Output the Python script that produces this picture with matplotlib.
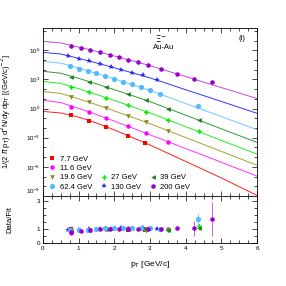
import matplotlib
matplotlib.use("Agg")
import matplotlib.pyplot as plt
from matplotlib.ticker import FixedLocator, NullFormatter, MultipleLocator

# fit curves on a 0.5 GeV/c grid
fit_pt = [0, 0.5, 1.0, 1.5, 2.0, 2.5, 3.0, 3.5, 4.0, 4.5, 5.0, 5.5, 6.0]
fit_200 = [8.5e6, 5.9e6, 2.2e6, 7.9e5, 2.6e5, 8.5e4, 2.7e4, 7.2e3, 2.0e3, 537, 145, 40, 10.7]
fit_130 = [6.2e5, 4.2e5, 1.5e5, 5.1e4, 1.6e4, 4.9e3, 1.45e3, 363, 87, 21.9, 5.4, 1.32, 0.324]
fit_62 = [7.4e4, 4.8e4, 1.5e4, 4.3e3, 1.15e3, 295, 74, 15.7, 3.31, 0.70, 0.148, 0.0313, 6.6e-3]
fit_39 = [6.9e3, 4.4e3, 1.3e3, 355, 89, 22, 5.2, 1.035, 0.207, 0.0412, 8.2e-3, 1.64e-3, 3.27e-4]
fit_27 = [630, 390, 112, 29, 6.9, 1.58, 0.355, 0.0695, 0.0136, 2.66e-3, 5.2e-4, 1.02e-4, 2.0e-5]
fit_19 = [59, 36, 10, 2.5, 0.575, 0.129, 0.0279, 5.4e-3, 1.04e-3, 2.0e-4, 3.85e-5, 7.4e-6, 1.43e-6]
fit_11 = [7.1, 4.2, 1.06, 0.245, 0.051, 0.0102, 2.0e-3, 3.9e-4, 7.6e-5, 1.5e-5, 2.9e-6, 5.6e-7, 1.1e-7]
fit_7 = [0.51, 0.355, 0.132, 0.033, 6.3e-3, 1.05e-3, 1.78e-4, 2.5e-5, 3.55e-6, 5.0e-7, 7.1e-8, 8.9e-9, 1.12e-9]

# data points (spectra and data/fit ratio)
pt_7 = [0.8, 1.3, 1.76, 2.38, 2.85]
y_7 = [0.20, 0.055, 0.0142, 1.5e-3, 2.8e-4]
r_7 = [1.02, 0.88, 1.0, 0.92, 0.92]

pt_11 = [0.8, 1.28, 1.76, 2.37, 2.9, 3.5]
y_11 = [1.38, 0.42, 0.109, 0.0163, 2.77e-3, 3.9e-4]
r_11 = [0.75, 0.9, 1.0, 1.05, 1.0, 1.0]

pt_19 = [0.8, 1.28, 1.76, 2.38, 2.9, 3.5]
y_19 = [15.9, 4.25, 1.17, 0.185, 0.0378, 5.1e-3]
r_19 = [0.95, 0.92, 1.0, 1.0, 1.0, 0.95]

pt_27 = [0.8, 1.28, 1.76, 2.38, 2.9, 3.5, 4.37]
y_27 = [166, 50, 13.7, 2.26, 0.455, 0.066, 4.9e-3]
r_27 = [0.9, 0.95, 1.0, 1.0, 0.95, 0.95, 1.2]
e_27 = [0.03, 0.03, 0.03, 0.03, 0.04, 0.05, 0.15]

pt_39 = [0.8, 1.28, 1.76, 2.38, 2.9, 3.5, 4.37]
y_39 = [1800, 600, 173, 30.6, 6.9, 0.98, 0.066]
r_39 = [0.85, 0.95, 1.0, 1.0, 1.0, 0.95, 1.05]
e_39 = [0.03, 0.03, 0.03, 0.03, 0.04, 0.05, 0.1]

pt_62 = [0.75, 1.0, 1.25, 1.5, 1.75, 2.0, 2.25, 2.5, 2.75, 3.0, 3.28, 4.34]
y_62 = [2.5e4, 1.33e4, 7.5e3, 4.27e3, 2.3e3, 1.2e3, 610, 325, 155, 81, 31, 1.96]
r_62 = [0.95, 0.9, 0.95, 1.0, 1.05, 1.05, 1.05, 1.1, 1.05, 1.1, 1.0, 1.7]
e_62 = [0.03, 0.03, 0.03, 0.03, 0.03, 0.03, 0.04, 0.04, 0.05, 0.05, 0.07, 0.4]

pt_130 = [0.7, 1.0, 1.3, 1.6, 1.9, 2.2, 2.5, 2.8, 3.2]
y_130 = [2.6e5, 1.36e5, 7.9e4, 4.06e4, 2.0e4, 1.04e4, 4.9e3, 2.6e3, 895]
r_130 = [0.95, 0.9, 1.0, 1.0, 1.0, 1.05, 1.0, 1.1, 1.0]

pt_200 = [0.78, 1.06, 1.32, 1.6, 1.88, 2.13, 2.38, 2.66, 2.94, 3.3, 3.75, 4.23, 4.73]
y_200 = [2.65e6, 1.7e6, 1.09e6, 6.3e5, 3.57e5, 1.95e5, 1.12e5, 5.9e4, 3.1e4, 1.32e4, 4.0e3, 1.15e3, 500]
r_200 = [0.78, 0.85, 0.95, 1.0, 1.02, 1.0, 1.02, 1.0, 1.0, 0.98, 1.05, 1.05, 1.7]
e_200 = [0.03, 0.03, 0.03, 0.03, 0.03, 0.03, 0.03, 0.04, 0.05, 0.08, 0.12, 0.55, 1.2]

labels = ["7.7 GeV", "11.6 GeV", "19.6 GeV", "27 GeV", "39 GeV", "62.4 GeV", "130 GeV", "200 GeV"]

series = [
    # label, fit, pt, y, ratio, err, marker, marker colour, line colour, size
    (labels[0], fit_7, pt_7, y_7, r_7, None, "s", "#ff0000", "#ff2020", 3.0),
    (labels[1], fit_11, pt_11, y_11, r_11, None, "o", "#ff00ff", "#ff33ff", 3.2),
    (labels[2], fit_19, pt_19, y_19, r_19, None, "v", "#8c8c1a", "#a3a333", 3.4),
    (labels[3], fit_27, pt_27, y_27, r_27, e_27, "P", "#00ee00", "#22ee22", 3.4),
    (labels[4], fit_39, pt_39, y_39, r_39, e_39, "<", "#1a801a", "#339933", 3.4),
    (labels[5], fit_62, pt_62, y_62, r_62, e_62, "o", "#55bbff", "#66ccff", 3.8),
    (labels[6], fit_130, pt_130, y_130, r_130, None, "*", "#2222ee", "#3333ff", 4.0),
    (labels[7], fit_200, pt_200, y_200, r_200, e_200, "h", "#9900cc", "#cc44dd", 3.6),
]

plt.rcParams["font.family"] = ["Liberation Sans", "DejaVu Sans"]
plt.rcParams["mathtext.fontset"] = "dejavusans"

fig = plt.figure(figsize=(2.86, 2.86), dpi=100)
ax = fig.add_axes([0.150, 0.315, 0.749, 0.587])
axr = fig.add_axes([0.150, 0.150, 0.749, 0.165], sharex=ax)

handles = []
for label, fit, pt, y, r, err, mk, mc, lc, ms in series:
    ax.plot(fit_pt, fit, color=lc, lw=0.7, zorder=2)
    h, = ax.plot(pt, y, ls="none", marker=mk, color=mc, ms=ms, mew=0, zorder=3)
    handles.append(h)
    if err is not None:
        axr.errorbar(pt, r, yerr=err, ls="none", marker=mk, color=mc, ms=ms,
                     mew=0, elinewidth=0.6, ecolor=lc, capsize=0, zorder=3)
    else:
        axr.plot(pt, r, ls="none", marker=mk, color=mc, ms=ms, mew=0, zorder=3)

ax.set_yscale("log")
ax.set_ylim(1e-9, 2e8)
ax.set_xlim(0, 6)
ax.yaxis.set_major_locator(FixedLocator([1e-9, 1e-6, 1e-3, 1e0, 1e3, 1e6]))
ax.yaxis.set_minor_locator(FixedLocator([10.0 ** k for k in range(-9, 9)]))
ax.yaxis.set_minor_formatter(NullFormatter())
ax.xaxis.set_major_locator(MultipleLocator(1))
ax.xaxis.set_minor_locator(MultipleLocator(0.25))
ax.tick_params(labelbottom=False)

for a in (ax, axr):
    a.tick_params(which="both", direction="in", top=True, right=True, labelsize=4.5, width=0.5, pad=2)
    a.tick_params(which="major", length=3.5)
    a.tick_params(which="minor", length=2)
    for s in a.spines.values():
        s.set_linewidth(0.6)

axr.set_ylim(0, 3.35)
axr.yaxis.set_major_locator(FixedLocator([0, 1, 3]))
axr.yaxis.set_minor_locator(MultipleLocator(0.5))

ax.set_ylabel(r"1/(2 $\pi$ p$_{\rm T}$) d$^2$N/dy dp$_{\rm T}$ [(GeV/c)$^{-2}$]", fontsize=5.5, labelpad=2)
axr.set_ylabel("Data/Fit", fontsize=5.5, labelpad=5)
axr.set_xlabel(r"p$_{\rm T}$ [GeV/c]", fontsize=6, labelpad=6)
ax.yaxis.set_label_coords(-0.14, 0.5)
axr.yaxis.set_label_coords(-0.14, 0.5)

ax.text(0.55, 0.94, r"$\Xi^{-}$", transform=ax.transAxes, fontsize=6, ha="center", va="center")
ax.text(0.565, 0.885, "Au-Au", transform=ax.transAxes, fontsize=5.5, ha="center", va="center")
ax.text(0.93, 0.94, "(i)", transform=ax.transAxes, fontsize=5.5, ha="center", va="center")

blank, = ax.plot([], [], ls="none")
leg_handles = [handles[0], handles[1], handles[2], handles[5],
               blank, blank, handles[3], handles[6],
               blank, blank, handles[4], handles[7]]
leg_labels = [labels[0], labels[1], labels[2], labels[5],
              "", "", labels[3], labels[6],
              "", "", labels[4], labels[7]]
ax.legend(leg_handles, leg_labels, ncol=3, loc="lower left", bbox_to_anchor=(0.0, 0.0),
          frameon=False, fontsize=5.5, handlelength=1.0, handletextpad=0.5,
          columnspacing=1.0, labelspacing=0.25, borderaxespad=0.3)

# the lowest decade label sits just above the ratio panel, as in the original
fig.canvas.draw()
ax.get_yticklabels()[0].set_verticalalignment("bottom")

fig.savefig("out.png", dpi=100)
